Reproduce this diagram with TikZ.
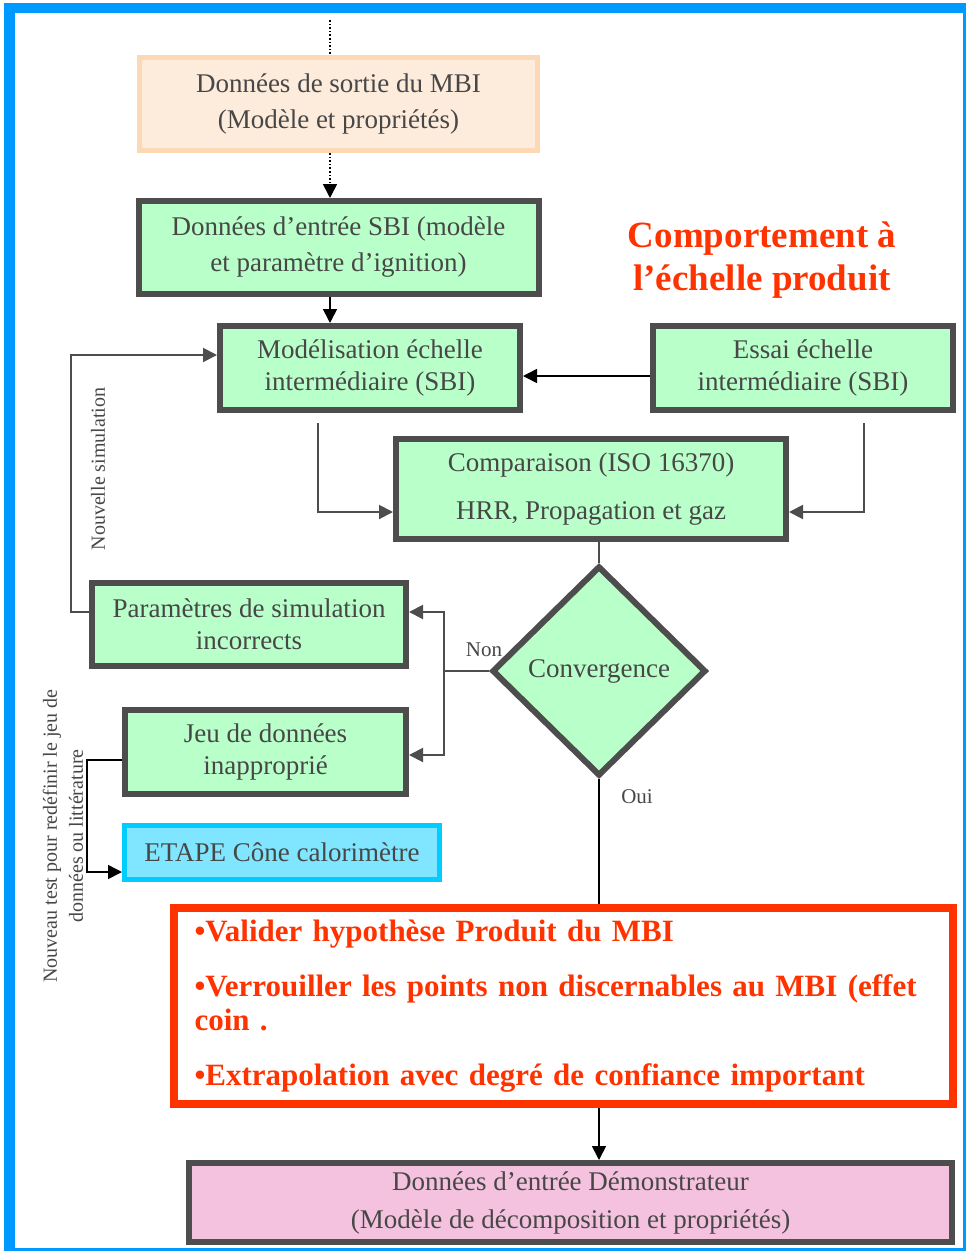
\documentclass[tikz,border=0pt]{standalone}
\usepackage{fontspec}
\setmainfont{Liberation Serif}
\usetikzlibrary{shapes.geometric,arrows.meta}
\definecolor{dgray}{HTML}{4D4D4D}
\definecolor{tgray}{HTML}{474747}
\definecolor{lgreen}{HTML}{B9FFC9}
\definecolor{frameblue}{HTML}{0099FF}
\definecolor{redc}{HTML}{FF3300}
\definecolor{orangeb}{HTML}{FDD8B4}
\definecolor{orangef}{HTML}{FDEBDC}
\definecolor{cyanb}{HTML}{00CCFF}
\definecolor{cyanf}{HTML}{80E5FF}
\definecolor{pinkf}{HTML}{F4C2DE}
\begin{document}
\begin{tikzpicture}[x=0.5pt,y=-0.5pt,
 box/.style={draw=dgray,line width=3pt,fill=lgreen,inner sep=0pt,align=center,text=tgray,font=\fontsize{13.5}{16}\selectfont},
 garrow/.style={draw=dgray,line width=1pt,-{Triangle[length=7pt,width=7pt]}},
 barrow/.style={draw=black,line width=0.8pt,-{Triangle[length=7pt,width=7pt]}},
 gline/.style={draw=dgray,line width=1pt},
 lbl/.style={text=tgray,font=\fontsize{10.5}{12}\selectfont,inner sep=0pt},
 rlbl/.style={text=tgray,font=\fontsize{10}{13}\selectfont,inner sep=0pt,rotate=90,align=center},
]
\fill[white] (0,0) rectangle (967,1253);
\fill[frameblue] (4,3) rectangle (966,1251);
\fill[white] (15,13) rectangle (963,1248);
\useasboundingbox (0,0) rectangle (967,1253);

\node[box, draw=orangeb, line width=2.5pt, fill=orangef, minimum width=199pt, minimum height=46.5pt] (b1) at (338.5,104) {Données de sortie du MBI\\[2pt](Modèle et propriétés)};
\node[box, minimum width=200pt, minimum height=46.5pt] (b2) at (338.5,247.5) {Données d’entrée SBI (modèle\\[2pt]et paramètre d’ignition)};
\node[box, minimum width=150pt, minimum height=42pt] (b3) at (370,368) {Modélisation échelle\\intermédiaire (SBI)};
\node[box, minimum width=150pt, minimum height=42pt] (b4) at (803,368) {Essai échelle\\intermédiaire (SBI)};
\node[box, minimum width=195pt, minimum height=50pt] (b5) at (591,489) {Comparaison (ISO 16370)\\[8pt]HRR, Propagation et gaz};
\node[box, diamond, minimum width=107pt, minimum height=105pt] (dia) at (599,671) {Convergence};
\node[box, minimum width=157pt, minimum height=41.5pt] (b6) at (249,624.5) {Paramètres de simulation\\incorrects};
\node[box, minimum width=140.5pt, minimum height=42pt] (b7) at (265.5,752) {Jeu de données\\inapproprié};
\node[box, draw=cyanb, line width=2.5pt, fill=cyanf, minimum width=157.5pt, minimum height=27pt] (b8) at (282,852.5) {ETAPE Cône calorimètre};
\node[box, draw=redc, line width=4pt, fill=white, text=redc, align=left, font=\bfseries\fontsize{15.5}{17}\selectfont, minimum width=389.5pt, minimum height=98pt, text width=369pt] (red) at (563.5,1006) {•Valider hypothèse Produit du MBI\\[10.5pt]•Verrouiller les points non discernables au MBI (effet\\coin .\\[10.5pt]•Extrapolation avec degré de confiance important};
\node[box, fill=pinkf, minimum width=381.5pt, minimum height=39.5pt] (pink) at (570.5,1202.5) {Données d’entrée Démonstrateur\\[3pt](Modèle de décomposition et propriétés)};

\node[text=redc, font=\bfseries\fontsize{18.5}{21.5}\selectfont, align=center] (title) at (762,260.5) {Comportement à\\l’échelle produit};
\node[lbl] (non) at (484,650) {Non};
\node[lbl] (oui) at (637,797) {Oui};
\node[rlbl] (nsim) at (98,469) {Nouvelle simulation};
\node[rlbl] (ntest) at (63,836) {Nouveau test pour redéfinir le jeu de\\données ou littérature};

\coordinate (top) at (330,20);
\coordinate (l3) at (318,0);
\coordinate (r4) at (864,0);
\coordinate (split) at (444,671);
\draw[densely dotted, line width=0.8pt] (top) -- (top |- b1.north);
\draw[barrow, densely dotted] (top |- b1.south) -- (top |- b2.north);
\draw[barrow] (top |- b2.south) -- (top |- b3.north);
\draw[barrow] ([yshift=-4pt]b4.west) -- ([yshift=-4pt]b3.east);
\draw[garrow] ([yshift=-5pt]b3.south -| l3) |- ([yshift=-11.5pt]b5.west);
\draw[garrow] ([yshift=-5pt]b4.south -| r4) |- ([yshift=-11.5pt]b5.east);
\draw[gline] (dia.north |- b5.south) -- (dia.north);
\draw[gline] (dia.west) -- (split);
\draw[garrow] (split) |- ([yshift=6.25pt]b6.east);
\draw[garrow] (split) |- ([yshift=-1.5pt]b7.east);
\draw[garrow] ([yshift=6.25pt]b6.west) -- ++(-18,0) |- ([yshift=6.5pt]b3.west);
\draw[barrow] ([yshift=-4pt]b7.west) -- ++(-35,0) |- ([yshift=-9.75pt]b8.west);
\draw[black, line width=0.8pt] (dia.south) -- (dia.south |- red.north);
\draw[barrow] (dia.south |- red.south) -- (dia.south |- pink.north);
\end{tikzpicture}
\end{document}
